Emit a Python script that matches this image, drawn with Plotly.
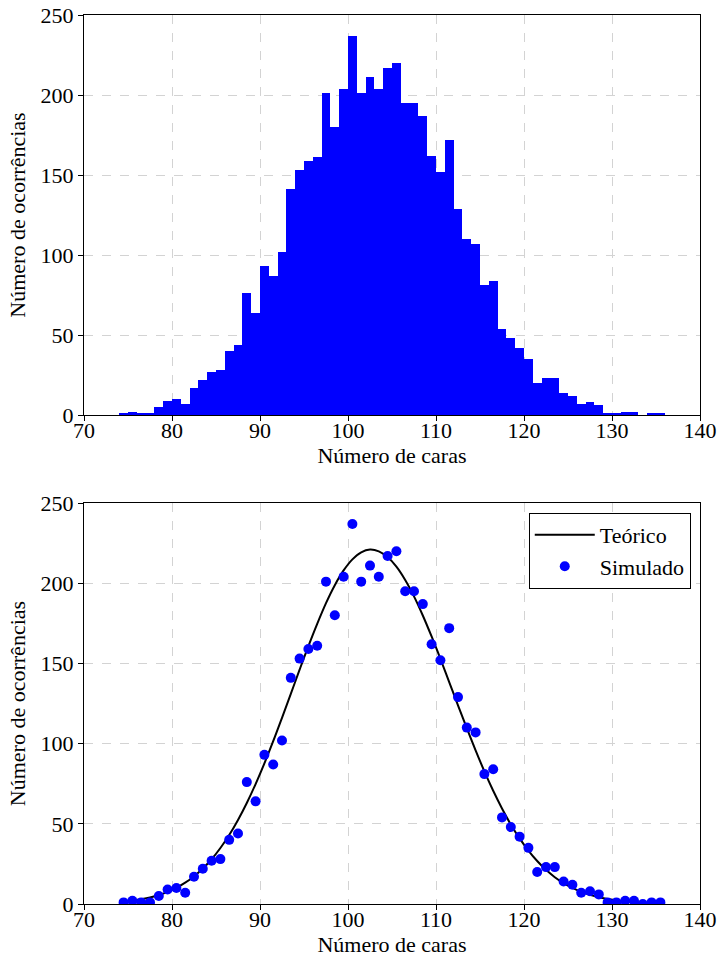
import plotly.graph_objects as go
from plotly.subplots import make_subplots

# Data: bins of width 1 (left edges) and counts
bin_left = list(range(74, 136))
counts = [1, 2, 1, 1, 5, 9, 10, 7, 17, 22, 27, 28, 40, 44, 76, 64, 93, 87, 102,
          141, 153, 159, 161, 201, 180, 204, 237, 201, 211, 204, 217, 220, 195,
          195, 187, 162, 152, 172, 129, 110, 107, 81, 84, 54, 48, 42, 35, 20, 23,
          23, 14, 12, 7, 8, 6, 1, 1, 2, 2, 0, 1, 1]
bin_centers = [b + 0.5 for b in bin_left]

# Theoretical curve values at bin centers
theory = [1.5, 2.1, 3.0, 4.1, 5.6, 7.6, 10.1, 13.3, 17.2, 22.1, 27.9, 34.9, 43.0,
          52.4, 63.0, 74.8, 87.7, 101.5, 116.1, 131.0, 146.1, 160.8, 174.7, 187.6,
          198.8, 208.0, 214.9, 219.3, 221.0, 219.9, 216.3, 210.3, 202.0, 191.8,
          179.9, 166.8, 152.9, 138.4, 123.9, 109.6, 95.8, 82.7, 70.6, 59.6, 49.6,
          40.9, 33.3, 26.8, 21.3, 16.7, 13.0, 10.0, 7.6, 5.7, 4.2, 3.1, 2.2, 1.6,
          1.1, 0.8, 0.5, 0.4]

x_ticks = [70, 80, 90, 100, 110, 120, 130, 140]
y_ticks = [0, 50, 100, 150, 200, 250]

FONT = "Liberation Serif"
FS = 22

fig = make_subplots(rows=2, cols=1, vertical_spacing=0.099)

fig.add_trace(go.Bar(x=bin_centers, y=counts, width=1.0, marker=dict(color="#0000ff", line=dict(width=0)),
                     showlegend=False), row=1, col=1)
fig.add_trace(go.Scatter(x=bin_centers, y=theory, mode="lines", line=dict(color="black", width=2, shape="spline"),
                         name="Teórico"), row=2, col=1)
fig.add_trace(go.Scatter(x=bin_centers, y=counts, mode="markers", marker=dict(color="#0000ff", size=10),
                         name="Simulado"), row=2, col=1)

axis_common = dict(showline=True, linecolor="black", linewidth=1, mirror=True,
                   ticks="outside", ticklen=5, tickcolor="black", tickwidth=1,
                   showgrid=True, gridcolor="#d3d3d3", griddash="dash", gridwidth=1,
                   zeroline=False, automargin=False,
                   tickfont=dict(family=FONT, size=FS, color="black"))

for r in (1, 2):
    fig.update_xaxes(range=[70, 140], tickvals=x_ticks, ticktext=[str(v) for v in x_ticks],
                     ticklabelstandoff=-9,
                     title=dict(text="Número de caras", font=dict(family=FONT, size=FS, color="black"), standoff=4),
                     row=r, col=1, **axis_common)
    fig.update_yaxes(range=[0, 250], tickvals=y_ticks, ticktext=[str(v) for v in y_ticks],
                     title=dict(text="Número de ocorrências", font=dict(family=FONT, size=FS, color="black"), standoff=8),
                     row=r, col=1, **axis_common)

fig.update_layout(
    width=717, height=958,
    margin=dict(l=84, r=17, t=15, b=54, autoexpand=False),
    plot_bgcolor="white", paper_bgcolor="white",
    bargap=0,
    font=dict(family=FONT, size=FS, color="black"),
    legend=dict(x=0.985, y=0.44, xanchor="right", yanchor="top",
                bordercolor="black", borderwidth=1, bgcolor="white",
                font=dict(family=FONT, size=FS, color="black"),
                tracegroupgap=0, itemwidth=60),
)
fig.update_yaxes(domain=[0.55, 1.0], row=1, col=1)
fig.update_yaxes(domain=[0.0, 0.451], row=2, col=1)

fig.write_html("out.html")
